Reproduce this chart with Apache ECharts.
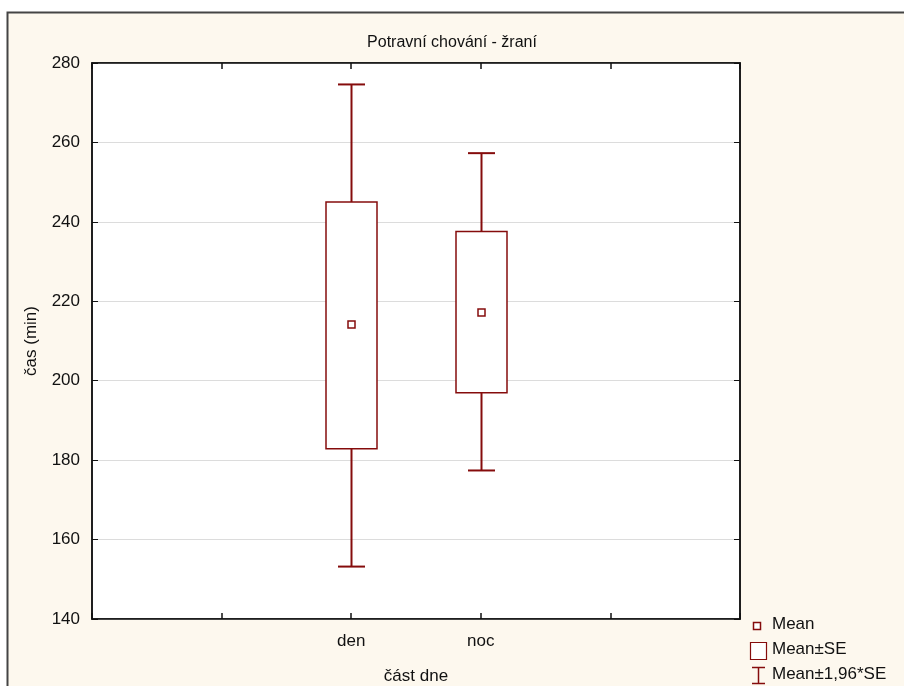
<!DOCTYPE html>
<html>
<head>
<meta charset="utf-8">
<script src="https://cdn.jsdelivr.net/npm/echarts@6/dist/echarts.min.js"></script>
<style>
html,body{margin:0;padding:0;background:#fff;}
#chart{width:904px;height:686px;}
</style>
</head>
<body>
<div id="chart"></div>
<script>
// Data
var categories = ['', '', 'den', 'noc', '', ''];
var groupNames = ['den', 'noc'];
var means = [214.3, 217.4];
var seLow = [182.9, 197.0];
var seHigh = [245.0, 237.6];
var ciLow = [153.2, 177.4];
var ciHigh = [274.6, 257.3];
var yTicks = [140, 160, 180, 200, 220, 240, 260, 280];

var RED = '#850C0C';
var FONT = 'Liberation Sans, Arial, sans-serif';

var seriesData = groupNames.map(function (g, i) {
  return [categories.indexOf(g), means[i], seLow[i], seHigh[i], ciLow[i], ciHigh[i]];
});

var chart = echarts.init(document.getElementById('chart'), null, {renderer: 'canvas'});

function renderItem(params, api) {
  var x = api.value(0);
  var pMean = api.coord([x, api.value(1)]);
  var pSeL = api.coord([x, api.value(2)]);
  var pSeH = api.coord([x, api.value(3)]);
  var pCiL = api.coord([x, api.value(4)]);
  var pCiH = api.coord([x, api.value(5)]);
  var cx = Math.round(pMean[0]) + 0.5;
  var boxHalf = 25.5, capHalf = 13.5, m = 3.5;
  return {
    type: 'group',
    children: [
      {type: 'line', shape: {x1: cx, y1: pCiH[1], x2: cx, y2: pSeH[1]}, style: {stroke: RED, lineWidth: 2}},
      {type: 'line', shape: {x1: cx, y1: pSeL[1], x2: cx, y2: pCiL[1]}, style: {stroke: RED, lineWidth: 2}},
      {type: 'line', shape: {x1: cx - capHalf, y1: pCiH[1], x2: cx + capHalf, y2: pCiH[1]}, style: {stroke: RED, lineWidth: 2}},
      {type: 'line', shape: {x1: cx - capHalf, y1: pCiL[1], x2: cx + capHalf, y2: pCiL[1]}, style: {stroke: RED, lineWidth: 2}},
      {type: 'rect', shape: {x: cx - boxHalf, y: pSeH[1], width: boxHalf * 2, height: pSeL[1] - pSeH[1]}, style: {fill: '#fff', stroke: RED, lineWidth: 1.5}},
      {type: 'rect', shape: {x: cx - m, y: Math.round(pMean[1]) - m + 0.5, width: m * 2, height: m * 2}, style: {fill: '#fff', stroke: RED, lineWidth: 1.5}}
    ]
  };
}

var legendItems = [
  {label: 'Mean', y: 626},
  {label: 'Mean±SE', y: 651},
  {label: 'Mean±1,96*SE', y: 676}
];
var legendGraphics = [];
legendItems.forEach(function (it) {
  legendGraphics.push({type: 'text', left: 772, top: it.y - 10, z: 10,
    style: {text: it.label, fill: '#111', font: '17px ' + FONT}});
});
legendGraphics.push({type: 'rect', z: 10, shape: {x: 753.5, y: 622.5, width: 7, height: 7}, style: {fill: '#fff', stroke: RED, lineWidth: 1.5}});
legendGraphics.push({type: 'rect', z: 10, shape: {x: 750.5, y: 642.5, width: 16, height: 17}, style: {fill: '#fff', stroke: RED, lineWidth: 1.2}});
legendGraphics.push({type: 'line', z: 10, shape: {x1: 758.5, y1: 667, x2: 758.5, y2: 684}, style: {stroke: RED, lineWidth: 1.5}});
legendGraphics.push({type: 'line', z: 10, shape: {x1: 752, y1: 667.5, x2: 765, y2: 667.5}, style: {stroke: RED, lineWidth: 1.5}});
legendGraphics.push({type: 'line', z: 10, shape: {x1: 752, y1: 683.5, x2: 765, y2: 683.5}, style: {stroke: RED, lineWidth: 1.5}});

var option = {
  backgroundColor: '#ffffff',
  animation: false,
  textStyle: {fontFamily: FONT},
  title: {
    text: 'Potravní chování - žraní',
    left: 'center',
    top: 30,
    textStyle: {fontSize: 16, fontWeight: 'normal', color: '#111', fontFamily: FONT}
  },
  grid: {left: 92, right: 164, top: 63, bottom: 67, containLabel: false, outerBoundsMode: 'none', show: true, backgroundColor: '#fff', borderColor: '#111', borderWidth: 1.5},
  xAxis: [{
    type: 'category',
    data: categories,
    boundaryGap: false,
    name: 'část dne',
    nameLocation: 'middle',
    nameGap: 49,
    nameTextStyle: {fontSize: 17, color: '#111', fontFamily: FONT},
    axisLine: {lineStyle: {color: '#111', width: 1.5}},
    axisTick: {inside: true, length: 6, lineStyle: {color: '#111', width: 1.5}},
    axisLabel: {fontSize: 17, color: '#111', margin: 14, fontFamily: FONT, interval: 0},
    splitLine: {show: false}
  }, {
    type: 'category',
    data: categories,
    boundaryGap: false,
    position: 'top',
    axisLine: {lineStyle: {color: '#111', width: 1.5}},
    axisTick: {inside: true, length: 6, lineStyle: {color: '#111', width: 1.5}},
    axisLabel: {show: false},
    splitLine: {show: false}
  }],
  yAxis: [{
    type: 'value',
    min: yTicks[0],
    max: yTicks[yTicks.length - 1],
    interval: 20,
    name: 'čas (min)',
    nameLocation: 'middle',
    nameGap: 52,
    nameTextStyle: {fontSize: 17, color: '#111', fontFamily: FONT},
    axisLine: {show: true, lineStyle: {color: '#111', width: 1.5}},
    axisTick: {show: true, inside: true, length: 6, lineStyle: {color: '#111', width: 1}},
    axisLabel: {fontSize: 17, color: '#111', margin: 12, fontFamily: FONT},
    splitLine: {show: true, lineStyle: {color: '#dcdcdc', width: 1}}
  }, {
    type: 'value',
    min: yTicks[0],
    max: yTicks[yTicks.length - 1],
    interval: 20,
    position: 'right',
    axisLine: {show: true, lineStyle: {color: '#111', width: 1.5}},
    axisTick: {show: true, inside: true, length: 6, lineStyle: {color: '#111', width: 1}},
    axisLabel: {show: false},
    splitLine: {show: false}
  }],
  graphic: [
    {type: 'rect', z: -10, silent: true, shape: {x: 7.5, y: 12.5, width: 910, height: 690}, style: {fill: '#FDF8EE', stroke: '#444', lineWidth: 2}}
  ].concat(legendGraphics),
  series: [{
    type: 'custom',
    renderItem: renderItem,
    encode: {x: 0, y: [1, 2, 3, 4, 5]},
    data: seriesData,
    z: 5
  }]
};
chart.setOption(option);
</script>
</body>
</html>
